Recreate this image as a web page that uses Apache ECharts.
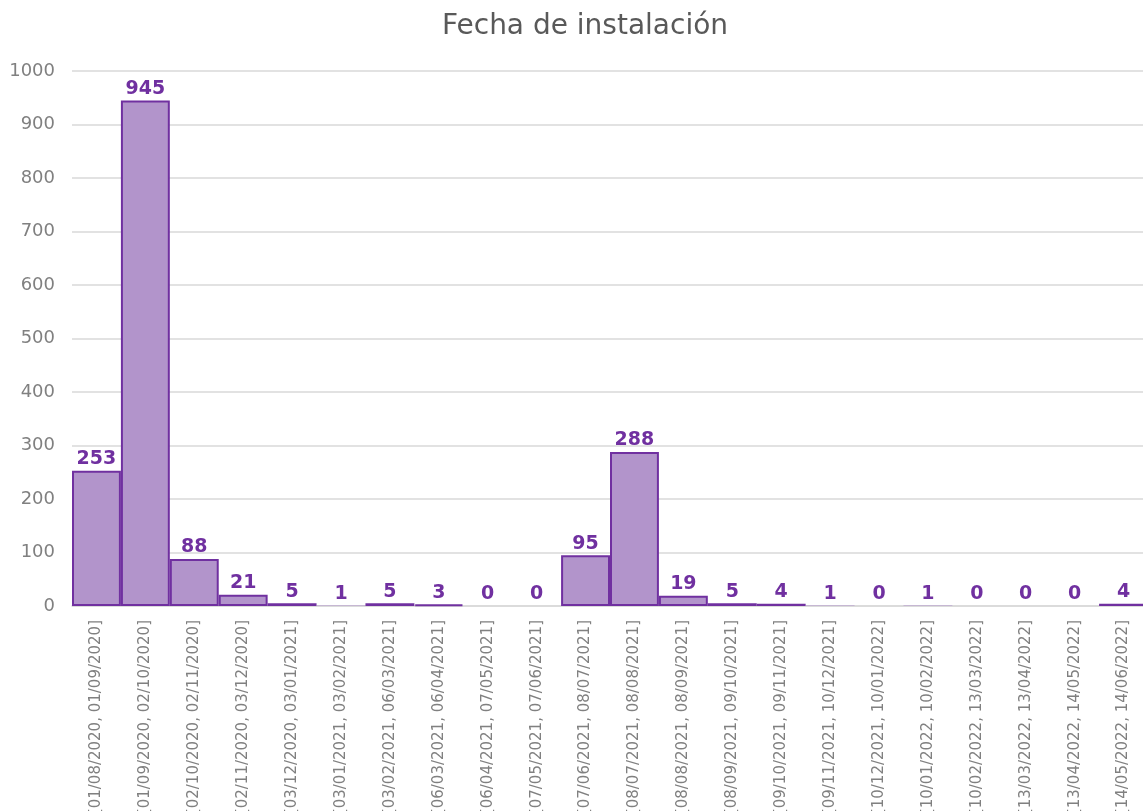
<!DOCTYPE html>
<html>
<head>
<meta charset="utf-8">
<script src="https://cdn.jsdelivr.net/npm/echarts@6/dist/echarts.min.js"></script>
<style>html,body{margin:0;padding:0;background:#fff}#c{width:1143px;height:811px}</style>
</head>
<body>
<div id="c"></div>
<script>
const categories = [
  "[01/08/2020, 01/09/2020]", "[01/09/2020, 02/10/2020]", "[02/10/2020, 02/11/2020]",
  "[02/11/2020, 03/12/2020]", "[03/12/2020, 03/01/2021]", "[03/01/2021, 03/02/2021]",
  "[03/02/2021, 06/03/2021]", "[06/03/2021, 06/04/2021]", "[06/04/2021, 07/05/2021]",
  "[07/05/2021, 07/06/2021]", "[07/06/2021, 08/07/2021]", "[08/07/2021, 08/08/2021]",
  "[08/08/2021, 08/09/2021]", "[08/09/2021, 09/10/2021]", "[09/10/2021, 09/11/2021]",
  "[09/11/2021, 10/12/2021]", "[10/12/2021, 10/01/2022]", "[10/01/2022, 10/02/2022]",
  "[10/02/2022, 13/03/2022]", "[13/03/2022, 13/04/2022]", "[13/04/2022, 14/05/2022]",
  "[14/05/2022, 14/06/2022]"
];
const counts = [253, 945, 88, 21, 5, 1, 5, 3, 0, 0, 95, 288, 19, 5, 4, 1, 0, 1, 0, 0, 0, 4];
const yTicks = [0, 100, 200, 300, 400, 500, 600, 700, 800, 900, 1000];
const titleText = "Fecha de instalación";

const FONT = "'DejaVu Sans', sans-serif";
const barData = counts.map(v => ({
  value: v,
  itemStyle: v < 2 ? {borderWidth: 0} : {}
}));
const chart = echarts.init(document.getElementById('c'), null, {renderer: 'canvas'});
chart.setOption({
  animation: false,
  backgroundColor: '#ffffff',
  title: {
    text: titleText,
    left: 580, top: 8, textAlign: 'center',
    textStyle: {fontFamily: FONT, fontWeight: 'normal', fontSize: 28, color: '#595959'}
  },
  grid: {left: 72, top: 71, width: 1076, bottom: 205, containLabel: false, outerBoundsMode: 'none'},
  xAxis: {
    type: 'category',
    data: categories,
    axisLine: {show: true, lineStyle: {color: '#d9d9d9', width: 1.5}},
    axisTick: {show: false},
    axisLabel: {
      interval: 0, rotate: 90, margin: 14,
      fontFamily: FONT, fontSize: 15, color: '#808080'
    }
  },
  yAxis: {
    type: 'value',
    min: yTicks[0], max: yTicks[yTicks.length - 1], interval: 100,
    axisLine: {show: false},
    axisTick: {show: false},
    splitLine: {lineStyle: {color: '#d9d9d9', width: 1.5}},
    axisLabel: {margin: 17, fontFamily: FONT, fontSize: 18, color: '#808080',
      formatter: v => String(v)}
  },
  series: [{
    type: 'bar',
    data: barData,
    barCategoryGap: '0%',
    itemStyle: {color: '#b294cb', borderColor: '#7030a0', borderWidth: 2},
    label: {
      show: true, position: 'top', distance: 2,
      fontFamily: FONT, fontWeight: 'bold', fontSize: 19, color: '#7030a0'
    }
  }]
});
</script>
</body>
</html>
